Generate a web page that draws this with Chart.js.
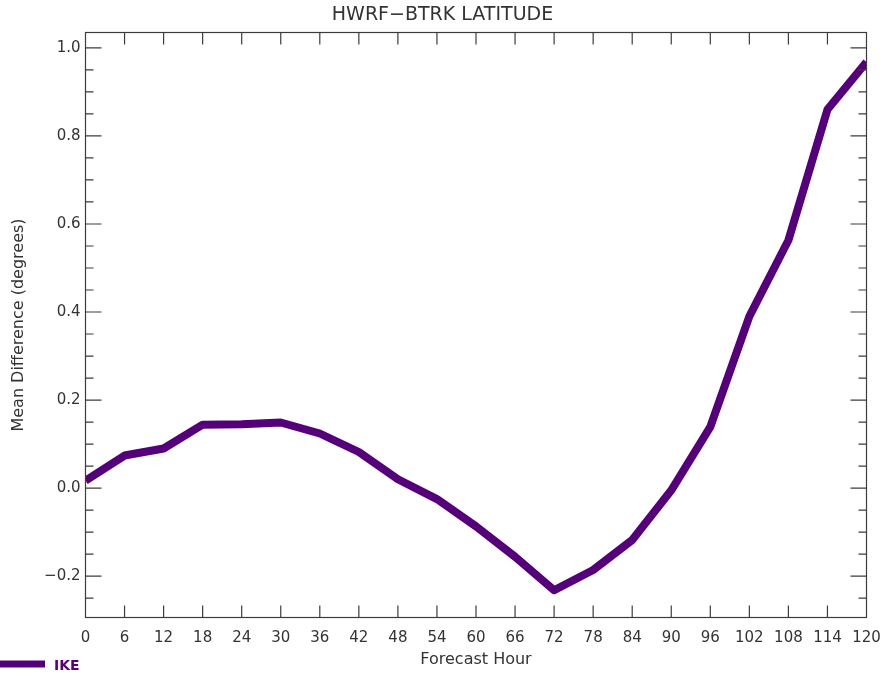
<!DOCTYPE html>
<html>
<head>
<meta charset="utf-8">
<script src="https://cdn.jsdelivr.net/npm/chart.js@4"></script>
<style>
  html, body { margin: 0; padding: 0; background: #fff; }
  .wrap { width: 885px; height: 676px; }
</style>
</head>
<body>
<div class="wrap"><canvas id="chart" width="885" height="676"></canvas></div>
<script>
const hours = [0, 6, 12, 18, 24, 30, 36, 42, 48, 54, 60, 66, 72, 78, 84, 90, 96, 102, 108, 114, 120];
const latDiff = [0.017, 0.074, 0.09, 0.144, 0.145, 0.149, 0.124, 0.082, 0.02, -0.025, -0.087, -0.156, -0.232, -0.186, -0.118, -0.005, 0.139, 0.39, 0.563, 0.86, 0.968];
const stormName = "IKE";

const axisColor = "#3c3c3c";
const textColor = "#333333";
const lineColor = "#55007a";

// box, inward ticks and legend
const framePlugin = {
  id: "frame",
  afterDraw(chart) {
    const ctx = chart.ctx;
    const a = chart.chartArea;
    const xs = chart.scales.x;
    const ys = chart.scales.y;
    ctx.save();
    ctx.strokeStyle = axisColor;
    ctx.lineWidth = 1.2;
    ctx.strokeRect(a.left, a.top, a.right - a.left, a.bottom - a.top);

    ctx.beginPath();
    for (let h = 6; h < 120; h += 6) {
      const px = xs.getPixelForValue(h);
      ctx.moveTo(px, a.bottom);
      ctx.lineTo(px, a.bottom - 12);
      ctx.moveTo(px, a.top);
      ctx.lineTo(px, a.top + 12);
    }
    for (let i = -5; i <= 20; i++) {
      const v = i * 0.05;
      if (v < ys.min || v > ys.max) continue;
      const py = ys.getPixelForValue(v);
      const len = i % 4 === 0 ? 16 : 8;
      ctx.moveTo(a.left, py);
      ctx.lineTo(a.left + len, py);
      ctx.moveTo(a.right, py);
      ctx.lineTo(a.right - len, py);
    }
    ctx.stroke();

    // legend
    ctx.strokeStyle = lineColor;
    ctx.lineWidth = 7;
    ctx.beginPath();
    ctx.moveTo(0, 664);
    ctx.lineTo(45, 664);
    ctx.stroke();
    ctx.fillStyle = lineColor;
    ctx.font = "bold 14px 'DejaVu Sans'";
    ctx.textBaseline = "middle";
    ctx.fillText(chart.data.datasets[0].label, 54, 666);
    ctx.restore();
  },
};

new Chart(document.getElementById("chart"), {
  type: "line",
  data: {
    datasets: [
      {
        label: stormName,
        data: hours.map((h, i) => ({ x: h, y: latDiff[i] })),
        borderColor: lineColor,
        borderWidth: 8,
        borderJoinStyle: "round",
        pointRadius: 0,
        tension: 0,
      },
    ],
  },
  options: {
    responsive: false,
    animation: false,
    layout: { padding: 0 },
    plugins: {
      legend: { display: false },
      tooltip: { enabled: false },
      title: {
        display: true,
        text: "HWRF\u2212BTRK LATITUDE",
        color: textColor,
        font: { family: "'DejaVu Sans'", size: 19, weight: "normal" },
        padding: { top: 4, bottom: 5.7 },
      },
    },
    scales: {
      x: {
        type: "linear",
        min: 0,
        max: 120,
        afterFit: (s) => {
          s.height = 58.5;
          s.paddingLeft = 0;
          s.paddingRight = 18.5;
        },
        grid: { display: false, drawTicks: false },
        border: { display: false },
        ticks: {
          stepSize: 6,
          autoSkip: false,
          maxRotation: 0,
          padding: 12,
          color: textColor,
          font: { family: "'DejaVu Sans'", size: 15 },
        },
        title: {
          display: true,
          text: "Forecast Hour",
          color: textColor,
          font: { family: "'DejaVu Sans'", size: 16 },
          padding: { bottom: 6.4 },
        },
      },
      y: {
        min: -0.294,
        max: 1.035,
        afterFit: (s) => { s.width = 85.5; },
        grid: { display: false, drawTicks: false },
        border: { display: false },
        ticks: {
          stepSize: 0.2,
          includeBounds: false,
          padding: 5,
          color: textColor,
          font: { family: "'DejaVu Sans'", size: 15 },
          callback: (v) => v.toFixed(1).replace("-", "\u2212"),
        },
        title: {
          display: true,
          text: "Mean Difference (degrees)",
          color: textColor,
          font: { family: "'DejaVu Sans'", size: 16 },
          padding: { top: 9.4 },
        },
      },
    },
  },
  plugins: [framePlugin],
});
</script>
</body>
</html>
